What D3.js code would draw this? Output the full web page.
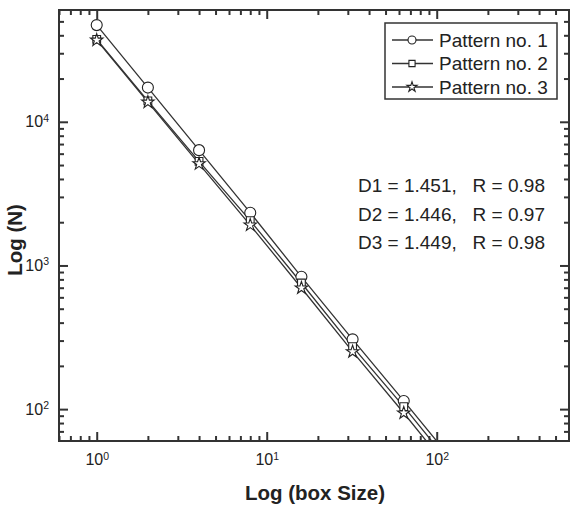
<!DOCTYPE html>
<html>
<head>
<meta charset="utf-8">
<script src="https://cdn.jsdelivr.net/npm/d3@7"></script>
<style>
  body{margin:0;background:#fff;}
  text{font-family:"Liberation Sans",Arial,sans-serif;fill:#222;}
</style>
</head>
<body>
<div id="container"></div>
<script>
let w=571;
let h=506;

// box sizes (the 128 point sits below the frame, only its line shows)
let boxSizes = [1,2,4,8,16,32,64,128];
let pattern1 = [47100,17300,6350,2330,834,306,114,42];
let pattern2 = [37500,14000,5300,2050,755,272,104,38];
let pattern3 = [37000,13700,5100,1910,697,251,94,34];

let seriesNames = ["Pattern no. 1","Pattern no. 2","Pattern no. 3"];
let fitLabels = ["D1 = 1.451,   R = 0.98","D2 = 1.446,   R = 0.97","D3 = 1.449,   R = 0.98"];

let xMajor = [1,10,100];
let yMajor = [100,1000,10000];

let padL=59, padR=569, padT=10, padB=441;

let viz = d3.select("#container")
  .append("svg")
    .attr("width",w)
    .attr("height",h)
    .style("background-color","white")
;

let x = d3.scaleLog().domain([0.6,600]).range([padL,padR]);
let y = d3.scaleLog().domain([60,60000]).range([padB,padT]);

function minorTicks(lo,hi){
  let out=[];
  for(let e=lo;e<=hi;e++){
    for(let k=2;k<=9;k++){
      out.push(k*Math.pow(10,e));
    }
  }
  return out;
}
let xMinor = minorTicks(-1,2).filter(d=>d>0.6 && d<600);
let yMinor = minorTicks(1,4).filter(d=>d>60 && d<60000);

function supLabel(sel){
  sel.each(function(d){
    let t = d3.select(this);
    t.text(null);
    t.append("tspan").text("10");
    t.append("tspan")
      .attr("dy","-0.55em")
      .attr("font-size","10.5px")
      .text(Math.round(Math.log10(d)));
  });
}

function styleAxis(g){
  g.select(".domain").remove();
  g.selectAll("line").attr("stroke","#333").attr("stroke-width",2);
  g.selectAll("text").attr("fill","#333").attr("font-size","16px")
    .style("font-family","'Liberation Sans',Arial,sans-serif");
}

// bottom
let xb = viz.append("g").attr("transform","translate(0,"+padB+")")
  .call(d3.axisBottom(x).tickValues(xMajor).tickSize(-9).tickPadding(13).tickFormat(d=>""));
styleAxis(xb);
xb.selectAll(".tick text").call(supLabel);
viz.append("g").attr("transform","translate(0,"+padB+")")
  .call(d3.axisBottom(x).tickValues(xMinor).tickSize(-5).tickFormat(""))
  .call(styleAxis);

// top
viz.append("g").attr("transform","translate(0,"+padT+")")
  .call(d3.axisTop(x).tickValues(xMajor).tickSize(-9).tickFormat(""))
  .call(styleAxis);
viz.append("g").attr("transform","translate(0,"+padT+")")
  .call(d3.axisTop(x).tickValues(xMinor).tickSize(-5).tickFormat(""))
  .call(styleAxis);

// left
let yl = viz.append("g").attr("transform","translate("+padL+",0)")
  .call(d3.axisLeft(y).tickValues(yMajor).tickSize(-9).tickPadding(10).tickFormat(d=>""));
styleAxis(yl);
yl.selectAll(".tick text").call(supLabel);
viz.append("g").attr("transform","translate("+padL+",0)")
  .call(d3.axisLeft(y).tickValues(yMinor).tickSize(-5).tickFormat(""))
  .call(styleAxis);

// right
viz.append("g").attr("transform","translate("+padR+",0)")
  .call(d3.axisRight(y).tickValues(yMajor).tickSize(-9).tickFormat(""))
  .call(styleAxis);
viz.append("g").attr("transform","translate("+padR+",0)")
  .call(d3.axisRight(y).tickValues(yMinor).tickSize(-5).tickFormat(""))
  .call(styleAxis);

// frame
viz.append("rect")
  .attr("x",padL)
  .attr("y",padT)
  .attr("width",padR-padL)
  .attr("height",padB-padT)
  .attr("fill","none")
  .attr("stroke","#333")
  .attr("stroke-width",2)
;

viz.append("clipPath").attr("id","plotclip")
  .append("rect")
    .attr("x",padL)
    .attr("y",padT)
    .attr("width",padR-padL)
    .attr("height",padB-padT)
;

let plot = viz.append("g").attr("clip-path","url(#plotclip)");

let allSeries = [pattern1,pattern2,pattern3];
let symbols = [d3.symbolCircle,d3.symbolSquare,d3.symbolStar];
let symSizes = [95,60,48];

let line = d3.line()
  .x((d,i)=>x(boxSizes[i]))
  .y(d=>y(d))
;

plot.selectAll(".serieLine").data(allSeries).enter()
  .append("path")
    .attr("class","serieLine")
    .attr("d",line)
    .attr("fill","none")
    .attr("stroke","#333")
    .attr("stroke-width",1.3)
;

allSeries.forEach(function(s,k){
  plot.selectAll(".mark"+k).data(s).enter()
    .append("path")
      .attr("class","mark"+k)
      .attr("transform",(d,i)=>"translate("+x(boxSizes[i])+","+y(d)+")")
      .attr("d",d3.symbol().type(symbols[k]).size(symSizes[k]))
      .attr("fill","white")
      .attr("stroke","#222")
      .attr("stroke-width",1.1)
  ;
});

// legend
let lg = viz.append("g").attr("class","legend");
lg.append("rect")
  .attr("x",385)
  .attr("y",23)
  .attr("width",172)
  .attr("height",76)
  .attr("fill","white")
  .attr("stroke","#333")
  .attr("stroke-width",1.5)
;
let rows = lg.selectAll(".row").data(seriesNames).enter()
  .append("g")
    .attr("class","row")
    .attr("transform",(d,i)=>"translate(0,"+(40+i*23.5)+")")
;
rows.append("line")
  .attr("x1",392).attr("x2",433)
  .attr("y1",0).attr("y2",0)
  .attr("stroke","#333")
  .attr("stroke-width",1.3)
;
rows.append("path")
  .attr("transform","translate(412,0)")
  .attr("d",(d,i)=>d3.symbol().type(symbols[i]).size([50,38,32][i])())
  .attr("fill","white")
  .attr("stroke","#222")
  .attr("stroke-width",1.1)
;
rows.append("text")
  .attr("x",439)
  .attr("y",0)
  .attr("dy","0.36em")
  .attr("font-size","19px")
  .text(d=>d)
;

// fit results
viz.selectAll(".fit").data(fitLabels).enter()
  .append("text")
    .attr("class","fit")
    .attr("x",358)
    .attr("y",(d,i)=>185+i*28.8)
    .attr("dy","0.36em")
    .attr("font-size","19px")
    .style("white-space","pre")
    .text(d=>d)
;

// axis titles
viz.append("text")
  .attr("x",(padL+padR)/2+1)
  .attr("y",500)
  .attr("text-anchor","middle")
  .attr("font-size","20.5px")
  .attr("font-weight","bold")
  .text("Log (box Size)")
;
viz.append("text")
  .attr("transform","translate(22,240) rotate(-90)")
  .attr("text-anchor","middle")
  .attr("font-size","20.5px")
  .attr("font-weight","bold")
  .text("Log (N)")
;
</script>
</body>
</html>
